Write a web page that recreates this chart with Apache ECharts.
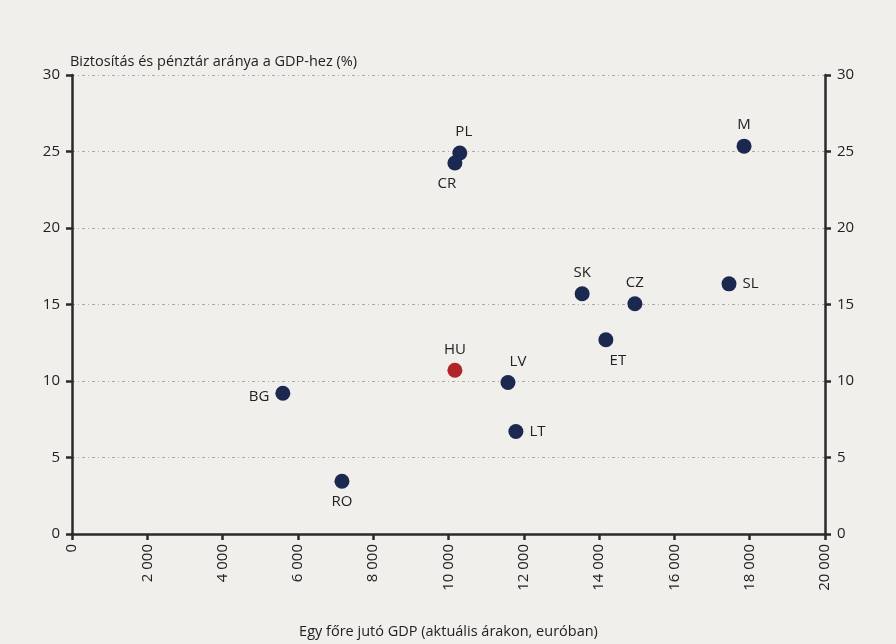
<!DOCTYPE html>
<html><head><meta charset="utf-8">
<script src="https://cdn.jsdelivr.net/npm/echarts@6/dist/echarts.min.js"></script>
<style>html,body{margin:0;padding:0;background:#f1efeb;}#c{width:896px;height:644px;}</style>
</head><body><div id="c"></div>
<script>
const countries = ['PL','CR','M','SK','CZ','SL','ET','HU','LV','LT','BG','RO'];
const gdpPerCapita = [10300,10170,17850,13550,14950,17450,14180,10170,11580,11790,5600,7170];
const insuranceShare = [24.9,24.25,25.35,15.7,15.05,16.35,12.7,10.7,9.9,6.7,9.2,3.45];
const xTicks = [0,2000,4000,6000,8000,10000,12000,14000,16000,18000,20000];
const yTicks = [0,5,10,15,20,25,30];

const labelPos = {PL:'top',CR:'bottom',M:'top',SK:'top',CZ:'top',SL:'right',ET:'bottom',HU:'top',LV:'top',LT:'right',BG:'left',RO:'bottom'};
const labelOffset = {PL:[4,0],CR:[-8,0],ET:[12,0],LV:[10,0],BG:[0,3]};
const navy = '#1b2850', red = '#b0242a';
const font = '"Open Sans", sans-serif';
const textColor = '#222';

const data = countries.map((c,i)=>({
  name:c, value:[gdpPerCapita[i], insuranceShare[i]],
  itemStyle:{color: c==='HU'? red : navy, opacity:1},
  label:{position: labelPos[c], offset: labelOffset[c]||[0,0]}
}));

const axisCommon = {
  min:yTicks[0], max:yTicks[yTicks.length-1], interval:5,
  axisLine:{show:true,lineStyle:{color:'#2a2a2a',width:2.5}},
  axisTick:{show:true,length:6,lineStyle:{color:'#2a2a2a',width:2.5}},
  axisLabel:{color:textColor,fontSize:15,fontFamily:font,margin:12}
};

const chart = echarts.init(document.getElementById('c'));
chart.setOption({
  backgroundColor:'#f1efeb',
  animation:false,
  grid:{left:72,right:71,top:75,bottom:110,containLabel:false,outerBoundsMode:'none'},
  xAxis:{
    type:'value',min:xTicks[0],max:xTicks[xTicks.length-1],interval:2000,
    name:'Egy főre jutó GDP (aktuális árakon, euróban)',
    nameLocation:'middle',nameGap:90,
    nameTextStyle:{color:textColor,fontSize:14.5,fontFamily:font},
    axisLine:{show:true,lineStyle:{color:'#2a2a2a',width:2.5}},
    axisTick:{show:true,length:6,lineStyle:{color:'#2a2a2a',width:2.5}},
    axisLabel:{rotate:90,color:textColor,fontSize:15,fontFamily:font,margin:10,
      formatter:v=>String(v).replace(/\B(?=(\d{3})+(?!\d))/g,' ')},
    splitLine:{show:false}
  },
  yAxis:[
    Object.assign({type:'value',position:'left',
      name:'Biztosítás és pénztár aránya a GDP-hez (%)',
      nameLocation:'end',nameGap:6,
      nameTextStyle:{color:textColor,fontSize:14.5,fontFamily:font,align:'left',padding:[0,0,0,-2]},
      splitLine:{show:true,lineStyle:{color:'#a8a8a8',width:1.2,type:[3,3,1,3]}}
    },axisCommon),
    Object.assign({type:'value',position:'right',splitLine:{show:false}},axisCommon)
  ],
  series:[{
    type:'scatter',symbolSize:15,data:data,
    label:{show:true,formatter:p=>p.name,color:textColor,fontSize:15,fontFamily:font,distance:6}
  }]
});
</script></body></html>
